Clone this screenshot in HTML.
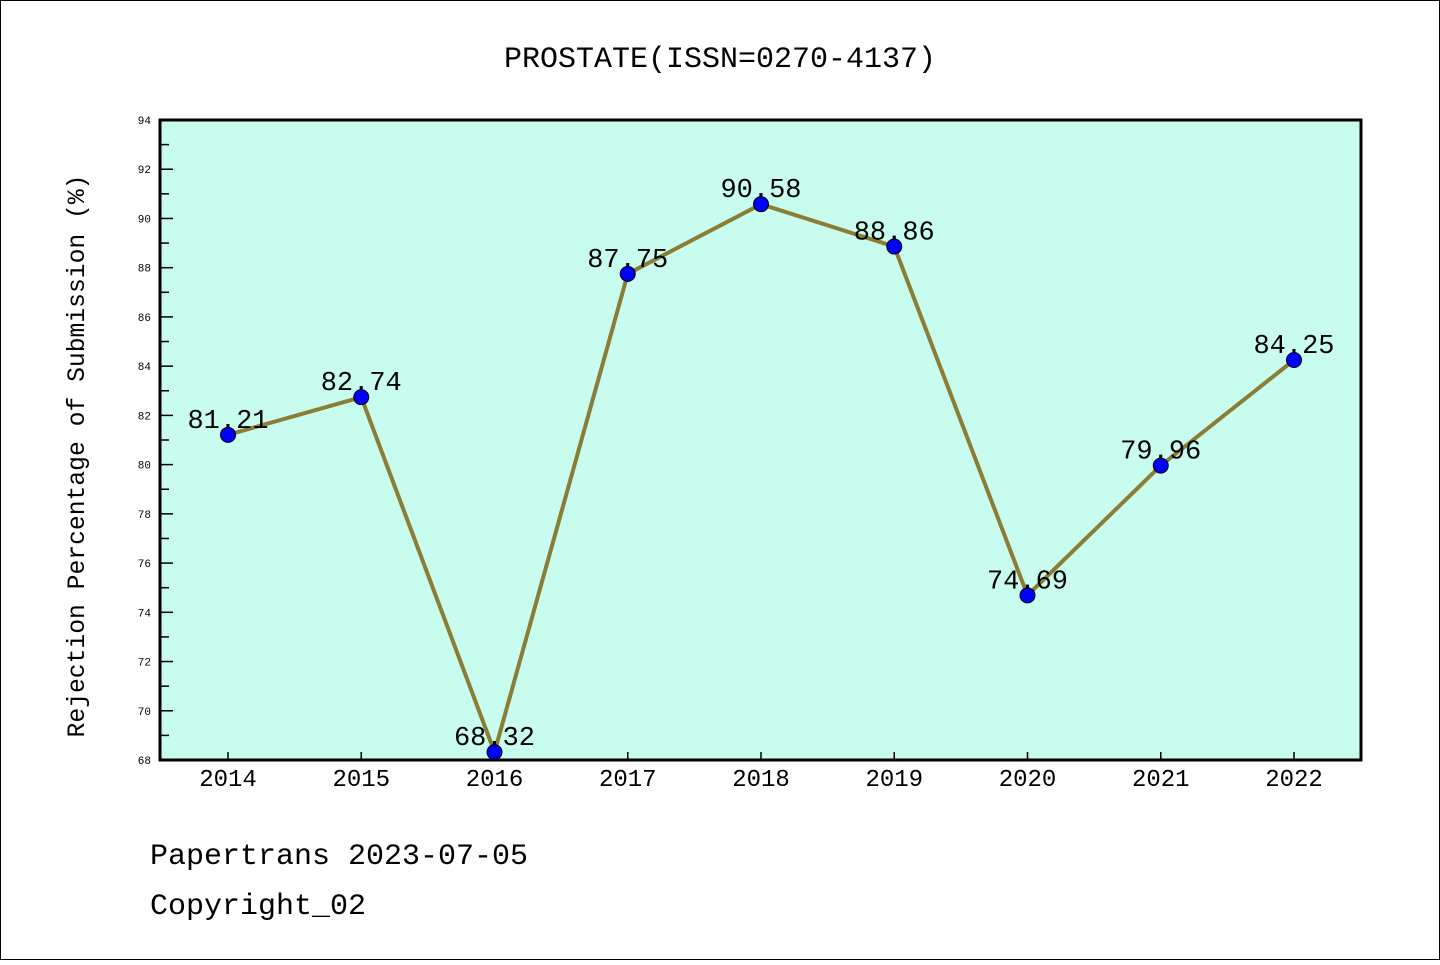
<!DOCTYPE html>
<html><head><meta charset="utf-8"><style>
body{margin:0;background:#fff}
svg text{font-family:"Liberation Mono","WenQuanYi Zen Hei",monospace;fill:#000}
</style></head><body>
<svg width="1440" height="960" xmlns="http://www.w3.org/2000/svg">
<rect x="0.5" y="0.5" width="1439" height="959" fill="#fff" stroke="#000"/>
<text x="720" y="67" font-size="30" text-anchor="middle">PROSTATE(ISSN=0270-4137)</text>
<rect x="160" y="120" width="1201" height="640" fill="#c8fcee"/>
<g id="axes"></g>
<g id="series"></g>
<rect x="160" y="120" width="1201" height="640" fill="none" stroke="#000" stroke-width="3"/>
<text transform="translate(84,456) rotate(-90)" font-size="24.7" text-anchor="middle">Rejection Percentage of Submission (%)</text>
<text x="150" y="864" font-size="30">Papertrans 2023-07-05</text>
<text x="150" y="914" font-size="30">Copyright_02</text>
</svg>
<script>
const years=["2014","2015","2016","2017","2018","2019","2020","2021","2022"];
const values=[81.21,82.74,68.32,87.75,90.58,88.86,74.69,79.96,84.25];
const labels=["81.21","82.74","68.32","87.75","90.58","88.86","74.69","79.96","84.25"];
const yTicks=[68,70,72,74,76,78,80,82,84,86,88,90,92,94];
const NS="http://www.w3.org/2000/svg";
const yMin=68,yMax=94,yTop=120,yBot=760;
function ys(v){return yBot-(v-yMin)/(yMax-yMin)*(yBot-yTop);}
function xs(i){return 228+i*133.25;}
function mk(t,a,p){const e=document.createElementNS(NS,t);for(const k in a)e.setAttribute(k,a[k]);p.appendChild(e);return e;}
const ax=document.getElementById('axes'),se=document.getElementById('series');
yTicks.forEach((v,i)=>{
 const t=mk('line',{x1:160,x2:173,y1:ys(v),y2:ys(v),stroke:'#000','stroke-width':1.5},ax);
 
 
 const l=mk('text',{x:151,y:ys(v)+4,'font-size':11,'text-anchor':'end'},ax);l.textContent=v;
 
 
 if(i<yTicks.length-1){const m=mk('line',{x1:160,x2:169,y1:ys(v+1),y2:ys(v+1),stroke:'#000','stroke-width':1.5},ax);
 
 }
});
years.forEach((y,i)=>{
 const t=mk('line',{x1:xs(i),x2:xs(i),y1:760,y2:752,stroke:'#000','stroke-width':1.5},ax);
 
 
 const l=mk('text',{x:xs(i),y:786,'font-size':24,'text-anchor':'middle'},ax);l.textContent=y;
 
 
});
const pl=mk('polyline',{points:values.map((v,i)=>xs(i)+','+ys(v)).join(' '),fill:'none',stroke:'#8b7d35','stroke-width':4},se);


values.forEach((v,i)=>{
 const l=mk('text',{x:xs(i),y:ys(v)-7,'font-size':27,'text-anchor':'middle'},se);l.textContent=labels[i];
 
 
});
values.forEach((v,i)=>{
 const c=mk('circle',{cx:xs(i),cy:ys(v),r:7.5,fill:'#0000ff',stroke:'#000','stroke-width':1},se);
 
 
});
</script>
</body></html>
